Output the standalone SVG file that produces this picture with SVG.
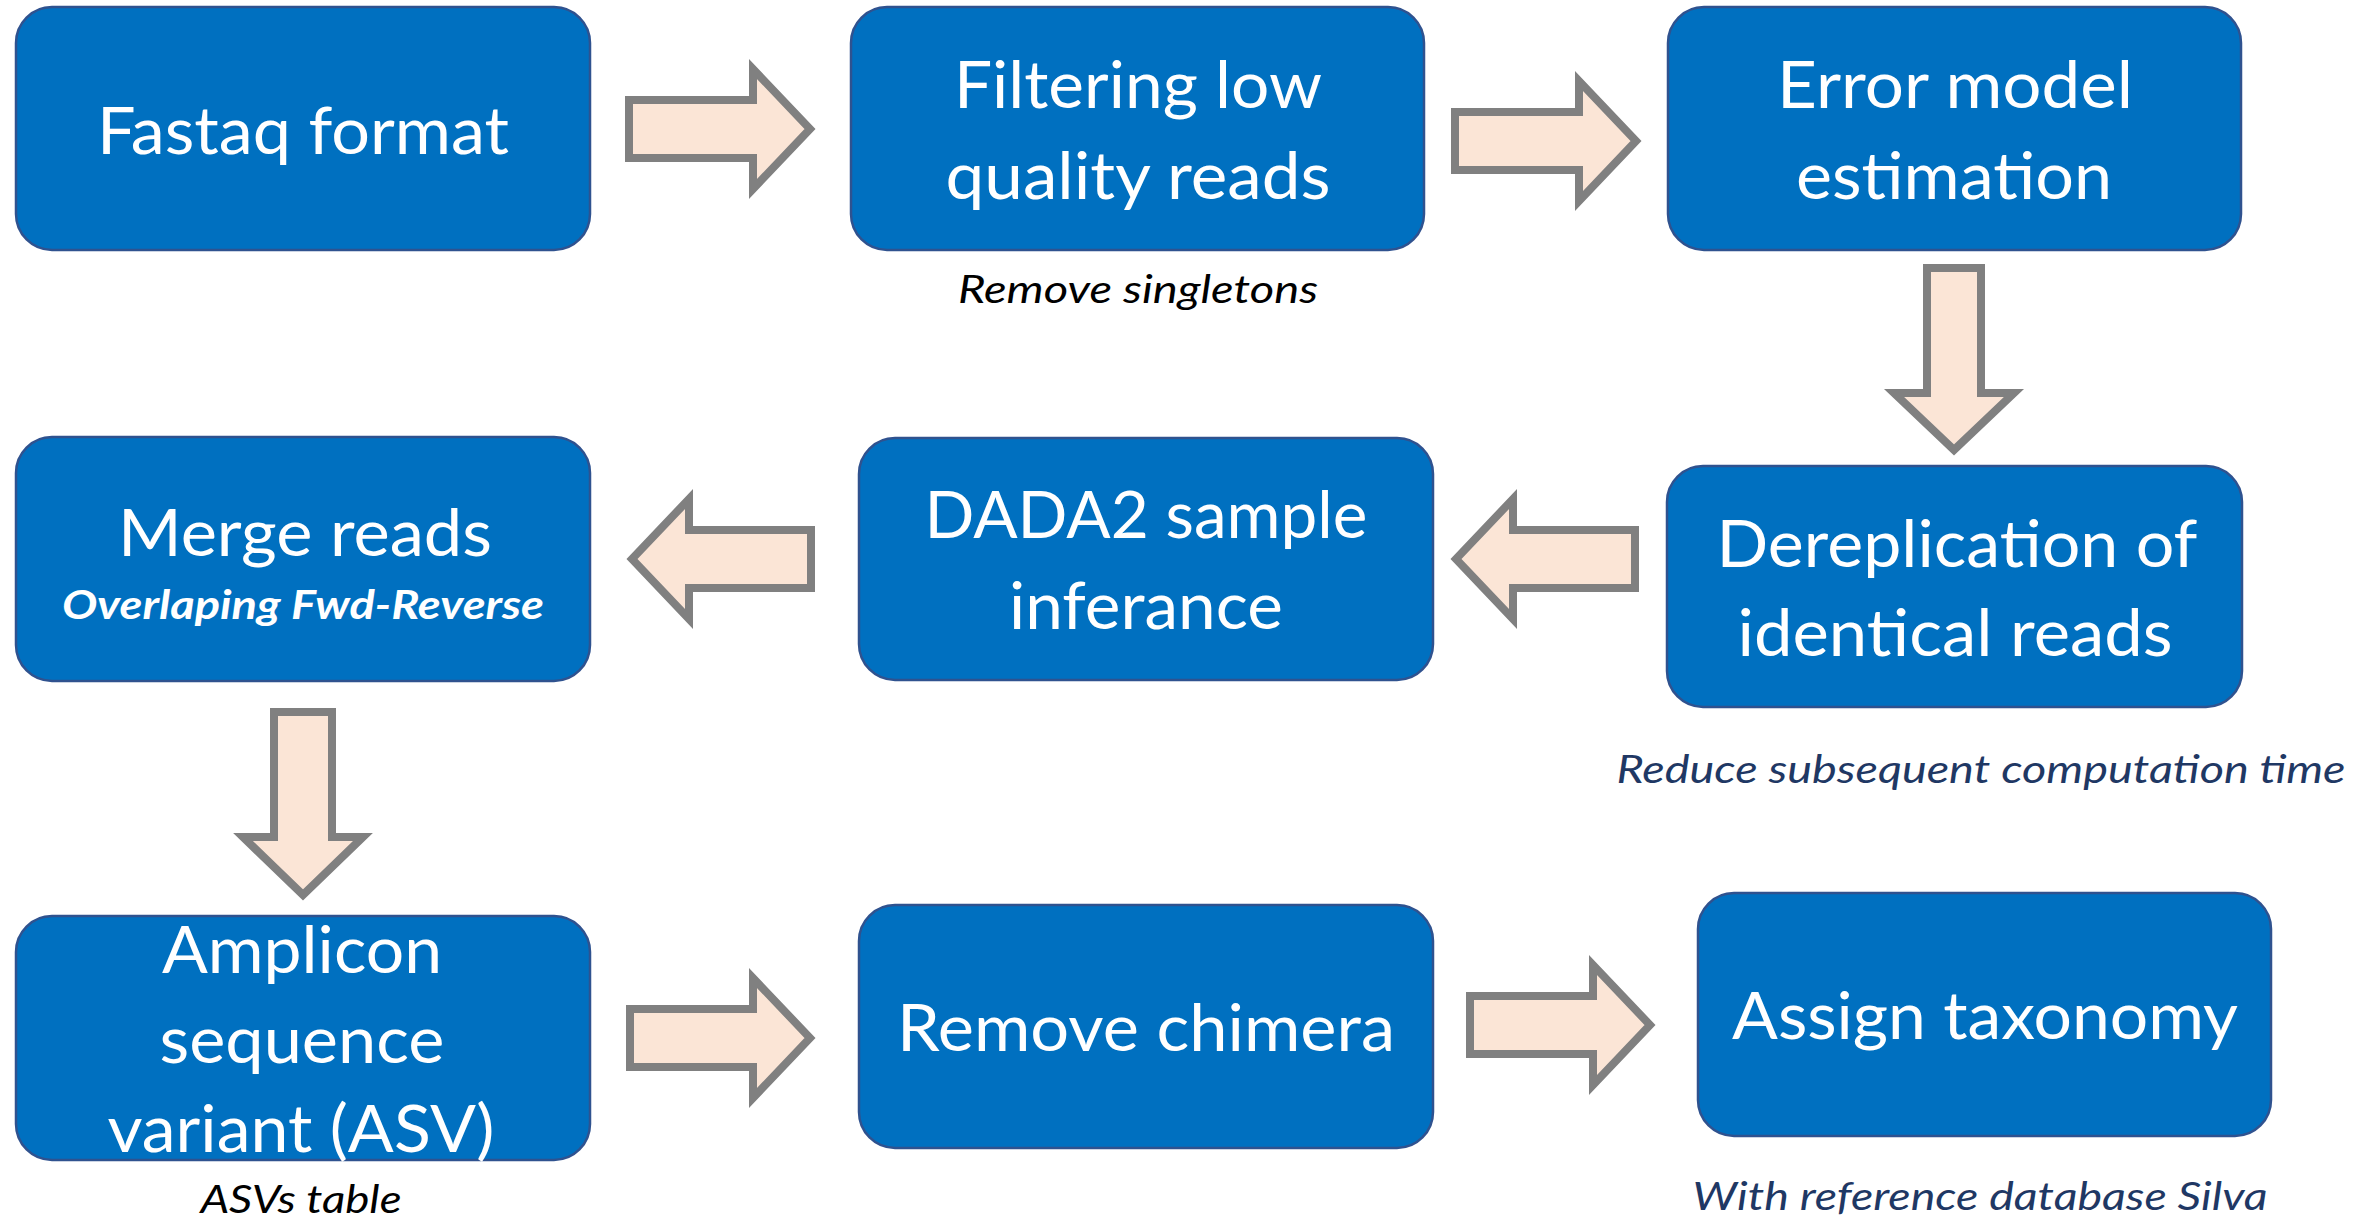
<svg xmlns="http://www.w3.org/2000/svg" width="2366" height="1218" viewBox="0 0 2366 1218">
  <style>
    .box { fill: #0070C0; stroke: #2F528F; stroke-width: 2.5; }
    .lbl { font-family: Lato, "Open Sans", "Liberation Sans", sans-serif; font-size: 65px; fill: #FFFFFF; text-anchor: middle; }
    .sub { font-family: Lato, "Open Sans", "Liberation Sans", sans-serif; font-size: 40px; font-weight: bold; font-style: italic; fill: #FFFFFF; text-anchor: middle; }
    .note { font-family: Lato, "Open Sans", "Liberation Sans", sans-serif; font-size: 38px; font-style: italic; text-anchor: middle; }
    .dark { fill: #000000; }
    .navy { fill: #1F3864; }
    .arrow { fill: #FBE5D6; stroke: #808080; stroke-width: 8; stroke-linejoin: miter; stroke-miterlimit: 10; }
  </style>

  <rect width="2366" height="1218" fill="#FFFFFF"/>

  <!-- block arrows between steps -->
  <g id="connectors">
    <path class="arrow" d="M629,100 H753 V69 L810,129 L753,189 V158 H629 Z"/>
    <path class="arrow" d="M1455,112 H1579 V81 L1636,141 L1579,201 V170 H1455 Z"/>
    <path class="arrow" d="M1927,268 H1981 V393 H2014 L1954,450 L1894,393 H1927 Z"/>
    <path class="arrow" d="M1635,530 H1513 V499 L1456,559 L1513,619 V588 H1635 Z"/>
    <path class="arrow" d="M811,530 H689 V499 L632,559 L689,619 V588 H811 Z"/>
    <path class="arrow" d="M274,712 H332 V837 H363 L303,895 L243,837 H274 Z"/>
    <path class="arrow" d="M630,1009 H753 V978 L810,1038 L753,1098 V1067 H630 Z"/>
    <path class="arrow" d="M1470,996 H1593 V965 L1650,1025 L1593,1085 V1054 H1470 Z"/>
  </g>

  <g id="fastaq">
    <rect class="box" x="16" y="7" width="574" height="243" rx="36" ry="36"/>
    <text class="lbl" x="303" y="154" textLength="412" lengthAdjust="spacingAndGlyphs">Fastaq format</text>
  </g>

  <g id="filtering">
    <rect class="box" x="851" y="7" width="573" height="243" rx="36" ry="36"/>
    <text class="lbl" x="1138" y="108" textLength="368" lengthAdjust="spacingAndGlyphs">Filtering low</text>
    <text class="lbl" x="1138" y="199" textLength="385" lengthAdjust="spacingAndGlyphs">quality reads</text>
    <text class="note dark" x="1138" y="303" textLength="360" lengthAdjust="spacingAndGlyphs">Remove singletons</text>
  </g>

  <g id="error-model">
    <rect class="box" x="1668" y="7" width="573" height="243" rx="36" ry="36"/>
    <text class="lbl" x="1955" y="108" textLength="356" lengthAdjust="spacingAndGlyphs">Error model</text>
    <text class="lbl" x="1954" y="199" textLength="316" lengthAdjust="spacingAndGlyphs">estimation</text>
  </g>

  <g id="dereplication">
    <rect class="box" x="1667" y="466" width="575" height="241" rx="36" ry="36"/>
    <text class="lbl" x="1957" y="567" textLength="481" lengthAdjust="spacingAndGlyphs">Dereplication of</text>
    <text class="lbl" x="1955" y="656" textLength="435" lengthAdjust="spacingAndGlyphs">identical reads</text>
    <text class="note navy" x="1981" y="783" textLength="729" lengthAdjust="spacingAndGlyphs">Reduce subsequent computation time</text>
  </g>

  <g id="dada2">
    <rect class="box" x="859" y="438" width="574" height="242" rx="36" ry="36"/>
    <text class="lbl" x="1146" y="538" textLength="443" lengthAdjust="spacingAndGlyphs">DADA2 sample</text>
    <text class="lbl" x="1146" y="629" textLength="274" lengthAdjust="spacingAndGlyphs">inferance</text>
  </g>

  <g id="merge">
    <rect class="box" x="16" y="437" width="574" height="244" rx="36" ry="36"/>
    <text class="lbl" x="305" y="556" textLength="374" lengthAdjust="spacingAndGlyphs">Merge reads</text>
    <text class="sub" x="303" y="619" textLength="482" lengthAdjust="spacingAndGlyphs">Overlaping Fwd-Reverse</text>
  </g>

  <g id="asv">
    <rect class="box" x="16" y="916" width="574" height="244" rx="36" ry="36"/>
    <text class="lbl" x="302" y="973" textLength="280" lengthAdjust="spacingAndGlyphs">Amplicon</text>
    <text class="lbl" x="302" y="1063" textLength="285" lengthAdjust="spacingAndGlyphs">sequence</text>
    <text class="lbl" x="301" y="1152" textLength="387" lengthAdjust="spacingAndGlyphs">variant (ASV)</text>
    <text class="note dark" x="301" y="1213" textLength="201" lengthAdjust="spacingAndGlyphs">ASVs table</text>
  </g>

  <g id="chimera">
    <rect class="box" x="859" y="905" width="574" height="243" rx="36" ry="36"/>
    <text class="lbl" x="1146" y="1051" textLength="498" lengthAdjust="spacingAndGlyphs">Remove chimera</text>
  </g>

  <g id="taxonomy">
    <rect class="box" x="1698" y="893" width="573" height="243" rx="36" ry="36"/>
    <text class="lbl" x="1985" y="1039" textLength="506" lengthAdjust="spacingAndGlyphs">Assign taxonomy</text>
    <text class="note navy" x="1980" y="1210" textLength="575" lengthAdjust="spacingAndGlyphs">With reference database Silva</text>
  </g>
</svg>
